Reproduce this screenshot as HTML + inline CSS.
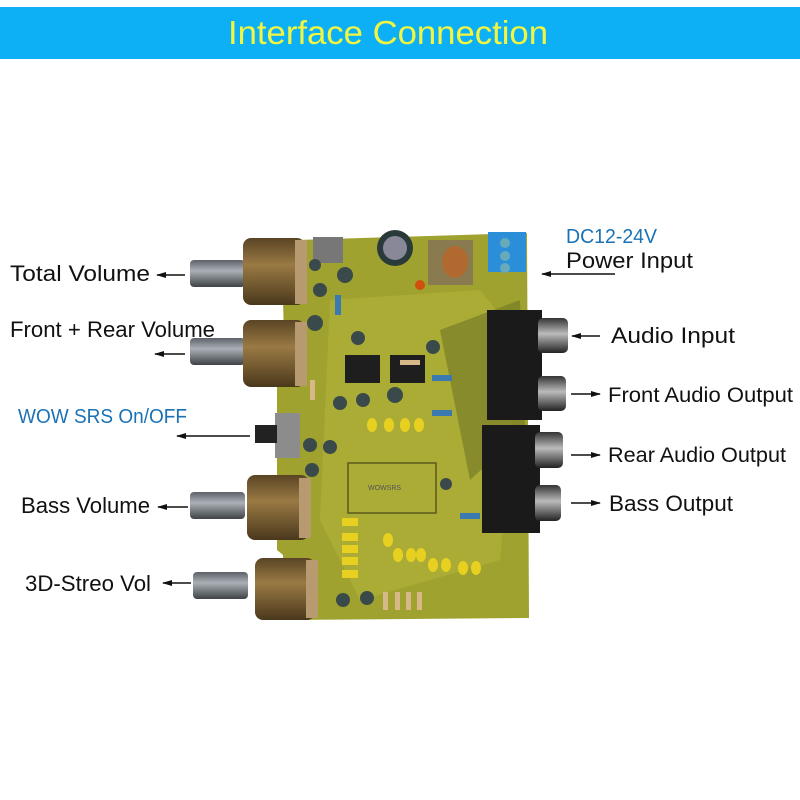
<!DOCTYPE html>
<html><head><meta charset="utf-8"><style>
html,body{margin:0;padding:0;background:#fff;}
svg{display:block;}
.t{font-family:"Liberation Sans",sans-serif;fill:#111;}
.b{font-family:"Liberation Sans",sans-serif;fill:#1a72b5;}
</style></head><body>
<svg width="800" height="800" viewBox="0 0 800 800">
<defs>
<marker id="ah" markerWidth="10" markerHeight="6" refX="9" refY="3" orient="auto" markerUnits="userSpaceOnUse"><path d="M0,0 L10,3 L0,6 Z" fill="#111"/></marker>
<linearGradient id="shaft" x1="0" y1="0" x2="0" y2="1"><stop offset="0" stop-color="#5c6268"/><stop offset=".4" stop-color="#aab0b6"/><stop offset="1" stop-color="#3e4246"/></linearGradient>
<linearGradient id="pot" x1="0" y1="0" x2="0" y2="1"><stop offset="0" stop-color="#5a4424"/><stop offset=".4" stop-color="#9a7a44"/><stop offset="1" stop-color="#4a381c"/></linearGradient>
<linearGradient id="rca" x1="0" y1="0" x2="0" y2="1"><stop offset="0" stop-color="#333"/><stop offset=".45" stop-color="#bbb"/><stop offset="1" stop-color="#222"/></linearGradient>
</defs>
<rect x="0" y="7" width="800" height="52" fill="#0eb0f5"/>
<text x="228" y="44" font-family="Liberation Sans,sans-serif" font-size="33" fill="#f2f640" textLength="320" lengthAdjust="spacingAndGlyphs">Interface  Connection</text>

<!-- PCB -->
<path d="M297,240 L527,233 L529,618 L285,620 L283,555 L277,550 L277,385 L285,380 L283,300 L297,295 Z" fill="#9fa22e"/>
<path d="M330,300 L480,290 L520,340 L500,560 L360,600 L320,520 Z" fill="#b0b03a" opacity=".7"/>
<path d="M440,330 L520,300 L525,430 L470,480 Z" fill="#6f7424" opacity=".6"/>
<rect x="348" y="463" width="88" height="50" fill="none" stroke="#5a5a1c" stroke-width="1.5"/>
<text x="368" y="490" font-family="Liberation Sans,sans-serif" font-size="7" fill="#555">WOWSRS</text>
<rect x="313" y="237" width="30" height="26" fill="#777"/>
<circle cx="395" cy="248" r="18" fill="#2a3a3a"/><circle cx="395" cy="248" r="12" fill="#889"/>
<rect x="428" y="240" width="45" height="45" fill="#8a7a50"/><ellipse cx="455" cy="262" rx="13" ry="16" fill="#b06a30"/>
<rect x="488" y="232" width="38" height="40" fill="#2a8fd8"/>
<circle cx="505" cy="243" r="5" fill="#6ab"/><circle cx="505" cy="256" r="5" fill="#6ab"/><circle cx="505" cy="268" r="5" fill="#6ab"/>
<circle cx="420" cy="285" r="5" fill="#d05010"/>
<rect x="345" y="355" width="35" height="28" fill="#1e1e1e"/><rect x="390" y="355" width="35" height="28" fill="#1e1e1e"/>
<g fill="#3a4a4a"><circle cx="315" cy="265" r="6"/><circle cx="320" cy="290" r="7"/><circle cx="345" cy="275" r="8"/><circle cx="315" cy="323" r="8"/><circle cx="358" cy="338" r="7"/><circle cx="433" cy="347" r="7"/><circle cx="395" cy="395" r="8"/><circle cx="340" cy="403" r="7"/><circle cx="363" cy="400" r="7"/><circle cx="310" cy="445" r="7"/><circle cx="330" cy="447" r="7"/><circle cx="312" cy="470" r="7"/><circle cx="446" cy="484" r="6"/><circle cx="343" cy="600" r="7"/><circle cx="367" cy="598" r="7"/></g>
<g fill="#e8d020"><ellipse cx="372" cy="425" rx="5" ry="7"/><ellipse cx="389" cy="425" rx="5" ry="7"/><ellipse cx="405" cy="425" rx="5" ry="7"/><ellipse cx="419" cy="425" rx="5" ry="7"/>
<rect x="342" y="518" width="16" height="8"/><rect x="342" y="533" width="16" height="8"/><rect x="342" y="545" width="16" height="8"/><rect x="342" y="557" width="16" height="8"/><rect x="342" y="570" width="16" height="8"/>
<ellipse cx="388" cy="540" rx="5" ry="7"/><ellipse cx="398" cy="555" rx="5" ry="7"/><ellipse cx="411" cy="555" rx="5" ry="7"/><ellipse cx="421" cy="555" rx="5" ry="7"/><ellipse cx="433" cy="565" rx="5" ry="7"/><ellipse cx="446" cy="565" rx="5" ry="7"/><ellipse cx="463" cy="568" rx="5" ry="7"/><ellipse cx="476" cy="568" rx="5" ry="7"/></g>
<g fill="#3a7ab0"><rect x="335" y="295" width="6" height="20"/><rect x="432" y="375" width="20" height="6"/><rect x="432" y="410" width="20" height="6"/><rect x="460" y="513" width="20" height="6"/></g>
<g fill="#d8b888"><rect x="400" y="360" width="20" height="5"/><rect x="310" y="380" width="5" height="20"/><rect x="383" y="592" width="5" height="18"/><rect x="395" y="592" width="5" height="18"/><rect x="406" y="592" width="5" height="18"/><rect x="417" y="592" width="5" height="18"/></g>
<rect x="275" y="413" width="25" height="45" fill="#8c8c8c"/><rect x="255" y="425" width="22" height="18" fill="#222"/>

<g>
<rect x="190" y="260" width="55" height="27" rx="4" fill="url(#shaft)"/><rect x="243" y="238" width="62" height="67" rx="8" fill="url(#pot)"/><rect x="295" y="240" width="12" height="64" fill="#b89a70"/>
<rect x="190" y="338" width="55" height="27" rx="4" fill="url(#shaft)"/><rect x="243" y="320" width="62" height="67" rx="8" fill="url(#pot)"/><rect x="295" y="322" width="12" height="64" fill="#b89a70"/>
<rect x="190" y="492" width="55" height="27" rx="4" fill="url(#shaft)"/><rect x="247" y="475" width="62" height="65" rx="8" fill="url(#pot)"/><rect x="299" y="478" width="12" height="60" fill="#b89a70"/>
<rect x="193" y="572" width="55" height="27" rx="4" fill="url(#shaft)"/><rect x="255" y="558" width="60" height="62" rx="8" fill="url(#pot)"/><rect x="306" y="560" width="12" height="58" fill="#b89a70"/>
</g>
<g>
<rect x="487" y="310" width="55" height="110" fill="#1a1a1a"/><rect x="482" y="425" width="58" height="108" fill="#1a1a1a"/>
<rect x="538" y="318" width="30" height="35" rx="5" fill="url(#rca)"/><rect x="538" y="376" width="28" height="35" rx="5" fill="url(#rca)"/>
<rect x="535" y="432" width="28" height="36" rx="5" fill="url(#rca)"/><rect x="535" y="485" width="26" height="36" rx="5" fill="url(#rca)"/>
</g>

<text class="t" x="10" y="281" font-size="22" textLength="140" lengthAdjust="spacingAndGlyphs">Total  Volume</text>
<text class="t" x="10" y="337" font-size="22" textLength="205" lengthAdjust="spacingAndGlyphs">Front + Rear Volume</text>
<text class="b" x="18" y="423" font-size="20" textLength="169" lengthAdjust="spacingAndGlyphs">WOW SRS On/OFF</text>
<text class="t" x="21" y="513" font-size="22" textLength="129" lengthAdjust="spacingAndGlyphs">Bass Volume</text>
<text class="t" x="25" y="591" font-size="22" textLength="126" lengthAdjust="spacingAndGlyphs">3D-Streo Vol</text>
<text class="b" x="566" y="243" font-size="20" textLength="91" lengthAdjust="spacingAndGlyphs">DC12-24V</text>
<text class="t" x="566" y="268" font-size="22" textLength="127" lengthAdjust="spacingAndGlyphs">Power  Input</text>
<text class="t" x="611" y="343" font-size="22" textLength="124" lengthAdjust="spacingAndGlyphs">Audio  Input</text>
<text class="t" x="608" y="402" font-size="21" textLength="185" lengthAdjust="spacingAndGlyphs">Front  Audio Output</text>
<text class="t" x="608" y="462" font-size="21" textLength="178" lengthAdjust="spacingAndGlyphs">Rear  Audio Output</text>
<text class="t" x="609" y="511" font-size="22" textLength="124" lengthAdjust="spacingAndGlyphs">Bass Output</text>

<g stroke="#111" stroke-width="1.5" marker-end="url(#ah)">
<line x1="185" y1="275" x2="157" y2="275"/>
<line x1="185" y1="354" x2="155" y2="354"/>
<line x1="250" y1="436" x2="177" y2="436"/>
<line x1="188" y1="507" x2="158" y2="507"/>
<line x1="191" y1="583" x2="163" y2="583"/>
<line x1="615" y1="274" x2="542" y2="274"/>
<line x1="600" y1="336" x2="572" y2="336"/>
<line x1="571" y1="394" x2="600" y2="394"/>
<line x1="571" y1="455" x2="600" y2="455"/>
<line x1="571" y1="503" x2="600" y2="503"/>
</g>
</svg>
</body></html>
